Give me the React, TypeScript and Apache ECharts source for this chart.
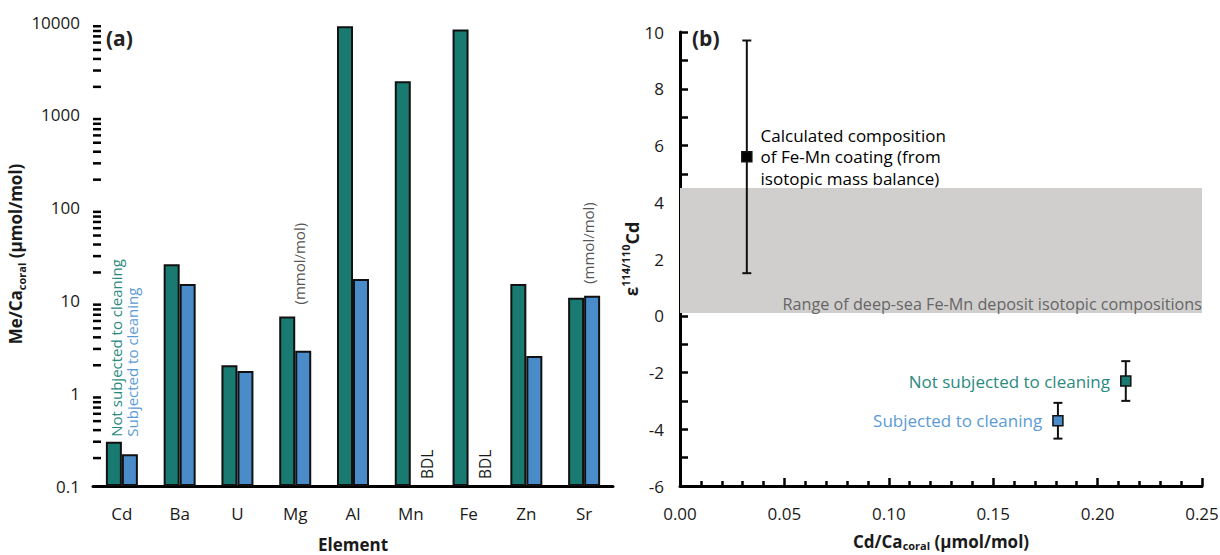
import React, { useEffect, useRef } from "react";
import * as echarts from "echarts";

// Panel (a): element / Ca ratios in coral, log scale (µmol/mol; Mg and Sr in mmol/mol)
const elements = ["Cd", "Ba", "U", "Mg", "Al", "Mn", "Fe", "Zn", "Sr"];
const notCleaned = [0.3, 24.5, 2.0, 6.7, 9000, 2300, 8300, 15, 10.7];
const cleaned: (number | null)[] = [0.22, 15, 1.73, 2.87, 17, null, null, 2.52, 11.2];
const bdlElements = ["Mn", "Fe"];
const mmolElements = ["Mg", "Sr"];
const logTicks = [0.1, 1, 10, 100, 1000, 10000];

// Panel (b): Cd isotope composition vs Cd/Ca
const pointLabels = [
  "Calculated composition\nof Fe-Mn coating (from\nisotopic mass balance)",
  "Not subjected to cleaning",
  "Subjected to cleaning",
];
const cdCa = [0.032, 0.2135, 0.181];
const epsilon = [5.6, -2.3, -3.7];
const epsilonLow = [1.5, -3.0, -4.33];
const epsilonHigh = [9.7, -1.6, -3.07];
const depositRange = [0.1, 4.5];
const depositLabel = "Range of deep-sea Fe-Mn deposit isotopic compositions";

const GREEN = "#187a70";
const BLUE = "#4a8bc9";
const GREEN_TEXT = "#2a8a80";
const BLUE_TEXT = "#5b9bd5";
const INK = "#1a1a1a";
const FONT = "Open Sans";

export default function App() {
  const ref = useRef<HTMLDivElement>(null);

  useEffect(() => {
    if (!ref.current) return;
    const chart = echarts.init(ref.current, null, { renderer: "svg" });

    // minor ticks of the log axis (2..9 within each decade)
    const minorLog: number[][] = [];
    for (let d = 0; d < logTicks.length - 1; d++) {
      for (let k = 2; k <= 9; k++) minorLog.push([0, logTicks[d] * k]);
    }

    const pointColors = ["#000000", GREEN, BLUE];
    const labelColors = ["#000000", GREEN_TEXT, BLUE_TEXT];

    const boldRich = (size: number) => ({
      fontSize: size,
      fontWeight: "bold",
      color: INK,
      fontFamily: FONT,
    });

    const option: any = {
      animation: false,
      textStyle: { fontFamily: FONT },
      grid: [
        { left: 93, top: 22, right: 607, bottom: 69, outerBoundsMode: "none", containLabel: false },
        { left: 680, top: 32, right: 18, bottom: 69, outerBoundsMode: "none", containLabel: false },
      ],
      xAxis: [
        {
          type: "category",
          gridIndex: 0,
          data: elements,
          name: "Element",
          nameLocation: "middle",
          nameGap: 50,
          nameTextStyle: { fontSize: 17, fontWeight: "bold", color: INK, fontFamily: FONT },
          axisLine: { lineStyle: { color: "#000", width: 3 } },
          axisTick: { inside: true, length: 8, lineStyle: { color: "#000", width: 2.5 } },
          axisLabel: { fontSize: 17, color: INK, margin: 19, fontFamily: FONT },
          splitLine: { show: false },
        },
        {
          type: "value",
          gridIndex: 1,
          min: 0,
          max: 0.25,
          interval: 0.05,
          name: "{b|Cd/Ca}{s|coral}{b| (µmol/mol)}",
          nameLocation: "middle",
          nameGap: 46,
          nameTextStyle: {
            rich: {
              b: { ...boldRich(17), lineHeight: 19 },
              s: { ...boldRich(11), lineHeight: 11, verticalAlign: "bottom" },
            },
          },
          axisLine: { onZero: false, lineStyle: { color: "#000", width: 3 } },
          axisTick: { inside: true, length: 8, lineStyle: { color: "#000", width: 2.5 } },
          minorTick: { show: true, splitNumber: 5, length: 5, lineStyle: { color: "#000", width: 2.5 } },
          axisLabel: {
            fontSize: 17,
            color: INK,
            margin: 19,
            fontFamily: FONT,
            formatter: (v: number) => v.toFixed(2),
          },
          splitLine: { show: false },
        },
      ],
      yAxis: [
        {
          type: "log",
          logBase: 10,
          gridIndex: 0,
          min: 0.1,
          max: 10000,
          startValue: 0.1,
          name: "{b|Me/Ca}{s|coral}{b| (µmol/mol)}",
          nameLocation: "middle",
          nameGap: 58,
          nameTextStyle: {
            rich: {
              b: { ...boldRich(17), lineHeight: 24 },
              s: { ...boldRich(11), lineHeight: 14, verticalAlign: "bottom" },
            },
          },
          axisLine: { lineStyle: { color: "#000", width: 3 } },
          axisTick: { inside: true, length: 8, lineStyle: { color: "#000", width: 2.5 } },
          axisLabel: {
            fontSize: 17,
            color: INK,
            margin: 13,
            fontFamily: FONT,
            formatter: (v: number) =>
              String(logTicks.find((t) => Math.abs(t - v) / t < 1e-6) ?? v),
          },
          splitLine: { show: false },
        },
        {
          type: "value",
          gridIndex: 1,
          min: -6,
          max: 10,
          interval: 2,
          name: "{e|ε}{sup|114/110}{c|Cd}",
          nameLocation: "middle",
          nameGap: 34,
          nameTextStyle: {
            rich: {
              e: { ...boldRich(17), lineHeight: 24 },
              sup: { ...boldRich(11), lineHeight: 14, verticalAlign: "top" },
              c: { ...boldRich(18), lineHeight: 24 },
            },
          },
          axisLine: { onZero: false, lineStyle: { color: "#000", width: 3 } },
          axisTick: { inside: true, length: 8, lineStyle: { color: "#000", width: 2.5 } },
          minorTick: { show: true, splitNumber: 2, length: 8, lineStyle: { color: "#000", width: 2.5 } },
          axisLabel: { fontSize: 17, color: INK, margin: 16, fontFamily: FONT },
          splitLine: { show: false },
        },
      ],
      series: [
        {
          name: "Not subjected to cleaning",
          type: "bar",
          xAxisIndex: 0,
          yAxisIndex: 0,
          data: notCleaned,
          barWidth: 16,
          barGap: "0%",
          itemStyle: { color: GREEN, borderColor: "#111", borderWidth: 2 },
        },
        {
          name: "Subjected to cleaning",
          type: "bar",
          xAxisIndex: 0,
          yAxisIndex: 0,
          data: cleaned.map((v) => (v == null ? "-" : v)),
          barWidth: 16,
          barGap: "0%",
          itemStyle: { color: BLUE, borderColor: "#111", borderWidth: 2 },
        },
        {
          // minor ticks on the log axis
          type: "custom",
          xAxisIndex: 0,
          yAxisIndex: 0,
          silent: true,
          clip: false,
          z: 5,
          data: minorLog,
          renderItem: (params: any, api: any) => {
            const y = api.coord([0, api.value(1)])[1];
            const x0 = params.coordSys.x;
            return {
              type: "line",
              shape: { x1: x0, y1: y, x2: x0 + 8, y2: y },
              style: { stroke: "#000", lineWidth: 2.5 },
            };
          },
        },
        {
          // deep-sea Fe-Mn deposit band with its caption
          type: "custom",
          xAxisIndex: 1,
          yAxisIndex: 1,
          silent: true,
          z: 1,
          data: [[0, depositRange[0], 0.25, depositRange[1]]],
          renderItem: (_params: any, api: any) => {
            const a = api.coord([api.value(0), api.value(3)]);
            const b = api.coord([api.value(2), api.value(1)]);
            return {
              type: "group",
              children: [
                {
                  type: "rect",
                  shape: { x: a[0], y: a[1], width: b[0] - a[0], height: b[1] - a[1] },
                  style: { fill: "#d0cfce" },
                },
                {
                  type: "text",
                  x: b[0],
                  y: b[1] - 1,
                  style: {
                    text: depositLabel,
                    fill: "#666",
                    fontSize: 16.2,
                    fontFamily: FONT,
                    align: "right",
                    verticalAlign: "bottom",
                  },
                },
              ],
            };
          },
        },
        {
          // error bars
          type: "custom",
          xAxisIndex: 1,
          yAxisIndex: 1,
          silent: true,
          z: 3,
          data: cdCa.map((x, i) => [x, epsilon[i], epsilonLow[i], epsilonHigh[i]]),
          renderItem: (_params: any, api: any) => {
            const x = api.value(0);
            const top = api.coord([x, api.value(3)]);
            const bot = api.coord([x, api.value(2)]);
            const cap = 4.5;
            const style = { stroke: "#111", lineWidth: 2 };
            return {
              type: "group",
              children: [
                { type: "line", shape: { x1: top[0], y1: top[1], x2: bot[0], y2: bot[1] }, style },
                { type: "line", shape: { x1: top[0] - cap, y1: top[1], x2: top[0] + cap, y2: top[1] }, style },
                { type: "line", shape: { x1: bot[0] - cap, y1: bot[1], x2: bot[0] + cap, y2: bot[1] }, style },
              ],
            };
          },
        },
        {
          type: "scatter",
          xAxisIndex: 1,
          yAxisIndex: 1,
          z: 4,
          symbol: "rect",
          symbolSize: 10,
          data: cdCa.map((x, i) => ({
            value: [x, epsilon[i]],
            name: pointLabels[i],
            itemStyle: { color: pointColors[i], borderColor: "#111", borderWidth: 1.5, opacity: 1 },
            label: {
              show: true,
              position: i === 0 ? "right" : "left",
              distance: i === 0 ? 8 : 10,
              formatter: "{b}",
              color: labelColors[i],
              fontSize: 17,
              lineHeight: 21.5,
              fontFamily: FONT,
            },
          })),
        },
      ],
    };

    chart.setOption(option);

    // annotations positioned from data coordinates
    const px = (cat: string, v: number) =>
      chart.convertToPixel({ xAxisIndex: 0, yAxisIndex: 0 }, [cat, v]) as number[];
    const vText = (x: number, y: number, text: string, color: string, size: number) => ({
      type: "text",
      x,
      y,
      rotation: Math.PI / 2,
      style: { text, fill: color, fontSize: size, fontFamily: FONT, align: "left", verticalAlign: "middle" },
      silent: true,
    });

    const graphics: any[] = [];
    const cdTop = px("Cd", notCleaned[0]);
    graphics.push(vText(cdTop[0] - 6, cdTop[1] - 5, "Not subjected to cleaning", GREEN_TEXT, 15));
    graphics.push(vText(cdTop[0] + 10, cdTop[1] - 5, "Subjected to cleaning", BLUE_TEXT, 15));
    bdlElements.forEach((el) => {
      const p = px(el, 0.1);
      graphics.push(vText(p[0] + 16, p[1] - 7, "BDL", INK, 15.5));
    });
    mmolElements.forEach((el) => {
      const i = elements.indexOf(el);
      const hi = Math.max(notCleaned[i], cleaned[i] ?? 0);
      const p = px(el, hi);
      graphics.push(vText(p[0] + 4, p[1] - 12, "(mmol/mol)", "#555", 15));
    });
    graphics.push({
      type: "text",
      left: 106,
      top: 27,
      style: { text: "(a)", fill: "#222", fontSize: 21, fontWeight: "bold", fontFamily: FONT },
      silent: true,
    });
    graphics.push({
      type: "text",
      left: 692,
      top: 27,
      style: { text: "(b)", fill: "#222", fontSize: 21, fontWeight: "bold", fontFamily: FONT },
      silent: true,
    });
    chart.setOption({ graphic: graphics });

    return () => chart.dispose();
  }, []);

  return (
    <div
      ref={ref}
      style={{ position: "fixed", left: 0, top: 0, width: 1220, height: 555, background: "#fff" }}
    />
  );
}
